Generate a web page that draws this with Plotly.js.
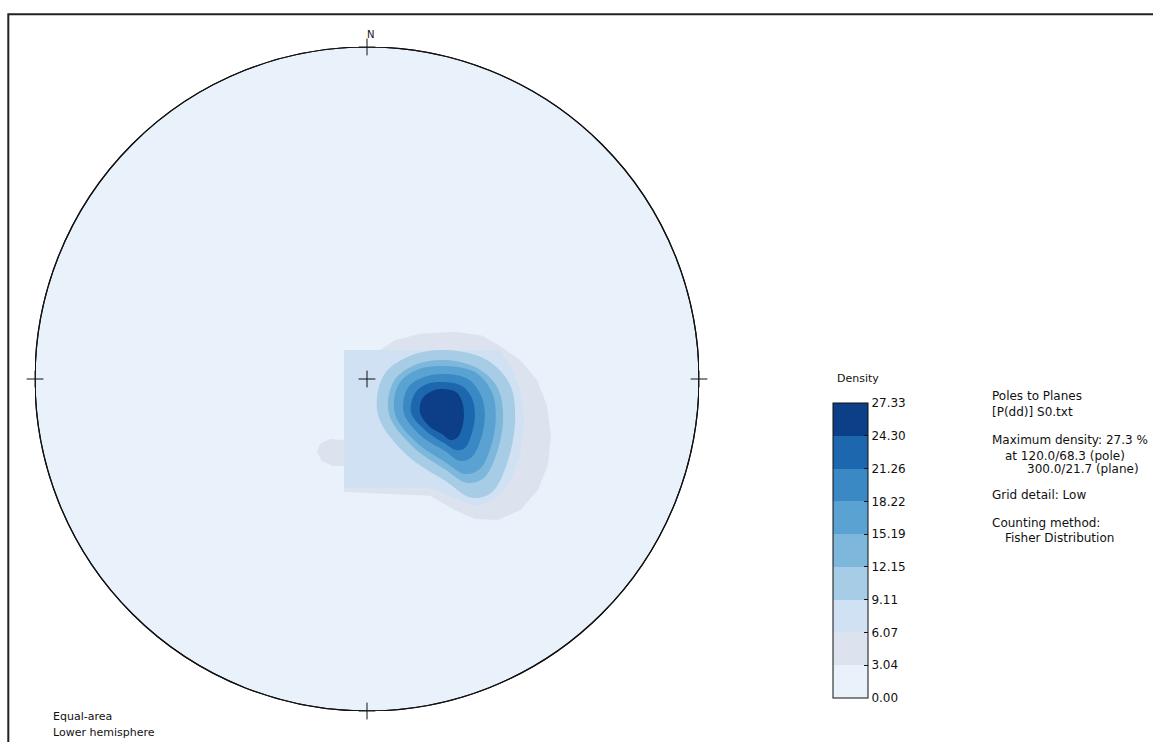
<!DOCTYPE html>
<html>
<head>
<meta charset="utf-8">
<script src="https://cdn.plot.ly/plotly-3.0.1.min.js"></script>
<style>
  html, body { margin: 0; padding: 0; background: #fff; }
  #chart { width: 1153px; height: 742px; }
</style>
</head>
<body>
<div id="chart"></div>
<script>
// ---- Data (stereonet units: radius = 100) ----
const levels = [0, 3.04, 6.07, 9.11, 12.15, 15.19, 18.22, 21.26, 24.30, 27.33];
const levelLabels = ["0.00", "3.04", "6.07", "9.11", "12.15", "15.19", "18.22", "21.26", "24.30", "27.33"];
const levelColors = ["#e9f2fa", "#dce3ee", "#cfe1f2", "#a6cce6", "#7db8dc", "#5aa2d2", "#3a88c4", "#1c67ae", "#0c3f88"];

// Filled density contours (outer to inner)
const contour1X = [-6.9, 3.9, 8.4, 16.0, 26.5, 34.9, 40.1, 46.1, 51.2, 54.2, 55.4, 54.5, 51.5, 46.1, 39.5, 32.5, 26.5, 19.0, -6.9, -6.9, -10.2, -13.6, -15.1, -14.2, -11.1, -6.9, -6.9];
const contour1Y = [8.7, 8.7, 11.7, 13.6, 14.2, 13.0, 9.9, 5.7, -0.3, -7.8, -16.9, -25.9, -33.4, -39.5, -42.5, -42.2, -39.5, -35.2, -34.0, -26.2, -26.2, -24.7, -22.0, -19.6, -18.1, -18.4, 8.7];
const contour2X = [-6.9, 40.1, 43.7, 46.1, 47.3, 46.1, 43.1, 38.6, 32.5, 26.5, 19.0, -6.9, -6.9];
const contour2Y = [8.7, 8.7, 3.3, -3.3, -12.3, -22.9, -31.0, -36.4, -38.3, -35.8, -32.8, -32.8, 8.7];
const contour3X = [13.6, 24.1, 36.1, 43.1, 44.6, 42.5, 37.7, 31.6, 24.1, 12.0, 3.3, 5.1, 13.6];
const contour3Y = [7.2, 8.7, 5.7, -1.8, -12.3, -24.4, -34.0, -35.8, -31.0, -22.9, -10.8, 1.2, 7.2];
const contour4X = [15.1, 23.8, 33.7, 39.5, 41.0, 39.2, 35.2, 30.1, 23.8, 13.9, 6.6, 8.1, 15.1];
const contour4Y = [4.5, 5.7, 3.0, -3.0, -11.7, -22.0, -29.8, -31.3, -27.4, -20.5, -10.5, -0.6, 4.5];
const contour5X = [15.7, 23.5, 32.5, 37.6, 38.8, 37.3, 34.0, 29.5, 23.5, 15.1, 8.4, 9.6, 15.7];
const contour5Y = [3.0, 3.9, 2.1, -3.9, -11.4, -20.5, -27.1, -28.6, -25.0, -19.3, -10.5, -1.5, 3.0];
const contour6X = [17.2, 23.5, 30.4, 34.3, 35.5, 34.3, 31.6, 28.0, 23.5, 16.3, 11.1, 12.3, 17.2];
const contour6Y = [0.6, 1.5, 0.0, -4.8, -10.8, -18.1, -23.5, -24.7, -21.7, -17.2, -10.2, -2.7, 0.6];
const contour7X = [18.1, 23.2, 28.6, 31.6, 32.5, 31.6, 29.5, 26.8, 23.2, 17.5, 13.3, 14.5, 18.1];
const contour7Y = [-1.5, -0.9, -2.1, -5.7, -10.8, -16.3, -20.8, -21.4, -19.3, -15.4, -10.2, -4.2, -1.5];
const contour8X = [19.6, 22.9, 26.8, 28.6, 29.2, 28.6, 27.1, 25.0, 22.6, 18.7, 16.0, 16.6, 19.6];
const contour8Y = [-3.6, -3.0, -3.9, -6.6, -10.8, -14.8, -17.8, -18.4, -16.6, -14.2, -10.2, -6.0, -3.6];

// Cardinal tick crosses (N, E, S, W, centre)
const crossX = [0, 100, 0, -100, 0];
const crossY = [100, 0, -100, 0, 0];

const infoLines = [
  {text: "Poles to Planes", x: 990, y: 396},
  {text: "[P(dd)] S0.txt", x: 990, y: 412},
  {text: "Maximum density: 27.3 %", x: 990, y: 440},
  {text: "at 120.0/68.3 (pole)", x: 1003, y: 456},
  {text: "300.0/21.7 (plane)", x: 1025, y: 469},
  {text: "Grid detail: Low", x: 990, y: 495},
  {text: "Counting method:", x: 990, y: 523},
  {text: "Fisher Distribution", x: 1003, y: 538}
];

// ---- Layout helpers ----
const W = 1153, H = 742;
const ML = 35, MT = 47, PW = 664, PH = 664;
const MR = W - ML - PW, MB = H - MT - PH;
const pxX = p => (p - ML) / PW;
const pxY = p => (MT + PH - p) / PH;
const FONT = "DejaVu Sans, Liberation Sans, sans-serif";

const contours = [
  [contour1X, contour1Y, 'linear'],
  [contour2X, contour2Y, 'linear'],
  [contour3X, contour3Y, 'spline'],
  [contour4X, contour4Y, 'spline'],
  [contour5X, contour5Y, 'spline'],
  [contour6X, contour6Y, 'spline'],
  [contour7X, contour7Y, 'spline'],
  [contour8X, contour8Y, 'spline']
];

const traces = contours.map((c, i) => ({
  type: 'scatter', mode: 'lines',
  x: c[0], y: c[1],
  fill: 'toself',
  fillcolor: levelColors[i + 1],
  line: {width: 0, color: levelColors[i + 1], shape: c[2], smoothing: 1},
  hoverinfo: 'skip', showlegend: false
}));

// discrete colorscale for the colour bar
const cmax = levels[levels.length - 1];
const colorscale = [];
for (let i = 0; i < levelColors.length; i++) {
  colorscale.push([levels[i] / cmax, levelColors[i]]);
  colorscale.push([levels[i + 1] / cmax, levelColors[i]]);
}

traces.push({
  type: 'scatter', mode: 'markers',
  x: [0], y: [0],
  marker: {
    size: 0.1, opacity: 0, color: [0],
    cmin: 0, cmax: cmax, colorscale: colorscale, showscale: true,
    colorbar: {
      xref: 'paper', yref: 'paper',
      x: pxX(833), xanchor: 'left',
      y: pxY(698), yanchor: 'bottom',
      thickness: 35, thicknessmode: 'pixels',
      len: 295 / PH, lenmode: 'fraction',
      xpad: 0, ypad: 0,
      outlinewidth: 1, outlinecolor: '#111',
      ticks: 'inside', ticklen: 4, tickwidth: 1, tickcolor: '#111',
      tickmode: 'array', tickvals: levels, ticktext: levelLabels,
      tickfont: {family: FONT, size: 12, color: '#111'},
      bgcolor: 'rgba(0,0,0,0)', borderwidth: 0
    }
  },
  hoverinfo: 'skip', showlegend: false
});

traces.push({
  type: 'scatter', mode: 'markers',
  x: crossX, y: crossY,
  marker: {symbol: 'cross-thin', size: 12, line: {width: 1, color: '#111'}, color: '#111'},
  hoverinfo: 'skip', showlegend: false, cliponaxis: false
});

const annotations = [
  {xref: 'x', yref: 'y', x: 0, y: 100, yshift: 13, xshift: 3, text: 'N', showarrow: false,
   font: {family: FONT, size: 10, color: '#111'}},
  {xref: 'paper', yref: 'paper', x: pxX(835), y: pxY(378), xanchor: 'left', yanchor: 'middle',
   text: 'Density', showarrow: false, font: {family: FONT, size: 11, color: '#111'}},
  {xref: 'paper', yref: 'paper', x: pxX(51), y: pxY(717), xanchor: 'left', yanchor: 'middle',
   text: 'Equal-area', showarrow: false, font: {family: FONT, size: 11, color: '#111'}},
  {xref: 'paper', yref: 'paper', x: pxX(51), y: pxY(732), xanchor: 'left', yanchor: 'middle',
   text: 'Lower hemisphere', showarrow: false, font: {family: FONT, size: 11, color: '#111'}}
];
infoLines.forEach(l => annotations.push({
  xref: 'paper', yref: 'paper', x: pxX(l.x), y: pxY(l.y), xanchor: 'left', yanchor: 'middle',
  text: l.text, showarrow: false, font: {family: FONT, size: 12, color: '#111'}
}));

const layout = {
  width: W, height: H, autosize: false,
  margin: {l: ML, r: MR, t: MT, b: MB, pad: 0},
  paper_bgcolor: '#ffffff', plot_bgcolor: 'rgba(0,0,0,0)',
  showlegend: false,
  xaxis: {range: [-100, 100], visible: false, fixedrange: true},
  yaxis: {range: [-100, 100], visible: false, fixedrange: true},
  shapes: [
    {type: 'circle', xref: 'x', yref: 'y', x0: -100, x1: 100, y0: -100, y1: 100,
     fillcolor: levelColors[0], line: {color: '#111', width: 1.2}, layer: 'below'},
    {type: 'circle', xref: 'x', yref: 'y', x0: -100, x1: 100, y0: -100, y1: 100,
     fillcolor: 'rgba(0,0,0,0)', line: {color: '#111', width: 1.2}, layer: 'above'},
    {type: 'rect', xref: 'paper', yref: 'paper', x0: pxX(8.3), x1: pxX(1200), y0: pxY(800), y1: pxY(14.3),
     line: {color: '#222', width: 2}, fillcolor: 'rgba(0,0,0,0)', layer: 'above'}
  ],
  annotations: annotations
};

Plotly.newPlot('chart', traces, layout, {staticPlot: true, displayModeBar: false});
</script>
</body>
</html>
